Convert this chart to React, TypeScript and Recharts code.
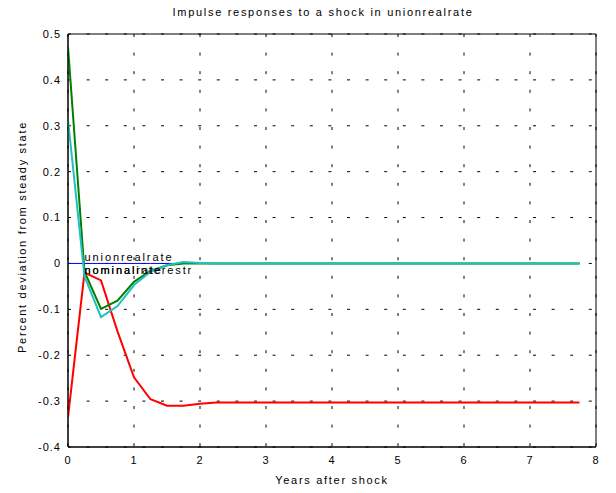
import React from "react";
import {
  LineChart,
  Line,
  XAxis,
  YAxis,
  CartesianGrid,
  ReferenceArea,
  ReferenceDot,
} from "recharts";

const years = [
  0, 0.25, 0.5, 0.75, 1, 1.25, 1.5, 1.75, 2, 2.25, 2.5, 2.75, 3, 3.25, 3.5, 3.75,
  4, 4.25, 4.5, 4.75, 5, 5.25, 5.5, 5.75, 6, 6.25, 6.5, 6.75, 7, 7.25, 7.5, 7.75,
];

const unionrealrate = [
  0, 0, 0, 0, 0, 0, 0, 0, 0, 0, 0, 0, 0, 0, 0, 0,
  0, 0, 0, 0, 0, 0, 0, 0, 0, 0, 0, 0, 0, 0, 0, 0,
];

const redSeries = [
  -0.335, -0.02, -0.037, -0.148, -0.248, -0.296, -0.31, -0.31, -0.306, -0.303, -0.303,
  -0.303, -0.303, -0.303, -0.303, -0.303, -0.303, -0.303, -0.303, -0.303, -0.303,
  -0.303, -0.303, -0.303, -0.303, -0.303, -0.303, -0.303, -0.303, -0.303, -0.303, -0.303,
];

const greenSeries = [
  0.472, -0.018, -0.099, -0.081, -0.04, -0.016, -0.004, 0, 0, 0, 0, 0, 0, 0, 0, 0,
  0, 0, 0, 0, 0, 0, 0, 0, 0, 0, 0, 0, 0, 0, 0, 0,
];

const cyanSeries = [
  0.313, -0.028, -0.117, -0.093, -0.047, -0.018, -0.004, 0.003, 0.001, 0, 0, 0, 0, 0, 0, 0,
  0, 0, 0, 0, 0, 0, 0, 0, 0, 0, 0, 0, 0, 0, 0, 0,
];

const xTicks = [0, 1, 2, 3, 4, 5, 6, 7, 8];
const yTicks = [-0.4, -0.3, -0.2, -0.1, 0, 0.1, 0.2, 0.3, 0.4, 0.5];

const labelTexts = ["unionrealrate", "nominalrate", "nominalinterestr"];
const labelX = [0.25, 0.25, 0.25];
const labelY = [0.015, -0.015, -0.015];

const data = years.map((x, i) => ({
  x,
  blue: unionrealrate[i],
  red: redSeries[i],
  green: greenSeries[i],
  cyan: cyanSeries[i],
}));

const FONT = "'Liberation Sans', Arial, Helvetica, sans-serif";

const fmtY = (v: number) => {
  const r = Math.round(v * 10) / 10;
  return r === 0 ? "0" : String(r);
};

export default function App() {
  return (
    <div
      style={{
        position: "absolute",
        left: 0,
        top: 0,
        width: 616,
        height: 493,
        background: "#fff",
        fontFamily: FONT,
      }}
    >
      <LineChart
        width={616}
        height={493}
        data={data}
        margin={{ top: 34, right: 20, left: 0, bottom: 0 }}
      >
        <CartesianGrid
          stroke="#000"
          strokeWidth={1}
          strokeDasharray="3 15.6"
          horizontalValues={yTicks}
          verticalValues={xTicks}
        />
        <XAxis
          dataKey="x"
          type="number"
          domain={[0, 8]}
          ticks={xTicks}
          height={46}
          tickLine={false}
          tickSize={0}
          tickMargin={9}
          axisLine={{ stroke: "#000" }}
          tick={{ fill: "#000", fontSize: 11, fontFamily: FONT, letterSpacing: 1 }}
          allowDataOverflow
        />
        <YAxis
          type="number"
          domain={[-0.4, 0.5]}
          ticks={yTicks}
          width={68}
          tickLine={false}
          tickSize={0}
          tickMargin={7}
          tickFormatter={fmtY}
          axisLine={{ stroke: "#000" }}
          tick={{ fill: "#000", fontSize: 11, fontFamily: FONT, letterSpacing: 1 }}
          allowDataOverflow
        />
        <ReferenceArea
          x1={0}
          x2={8}
          y1={-0.4}
          y2={0.5}
          fill="none"
          fillOpacity={0}
          stroke="#000"
          strokeWidth={1}
        />
        <Line
          dataKey="blue"
          stroke="#0000ff"
          strokeWidth={1}
          dot={false}
          isAnimationActive={false}
        />
        <Line
          dataKey="red"
          stroke="#ff0000"
          strokeWidth={2}
          dot={false}
          isAnimationActive={false}
        />
        <Line
          dataKey="green"
          stroke="#008000"
          strokeWidth={2}
          dot={false}
          isAnimationActive={false}
        />
        <Line
          dataKey="cyan"
          stroke="#20c0c0"
          strokeWidth={2}
          dot={false}
          isAnimationActive={false}
        />
        {labelTexts.map((t, i) => (
          <ReferenceDot
            key={t}
            x={labelX[i]}
            y={labelY[i]}
            r={0}
            shape={(p: any) => (
              <text
                x={p.cx}
                y={p.cy}
                dominantBaseline="central"
                fontSize={11}
                fontFamily={FONT}
                letterSpacing={1.9}
                fill="#000"
              >
                {t}
              </text>
            )}
          />
        ))}
      </LineChart>
      <div
        style={{
          position: "absolute",
          left: 0,
          width: 646,
          top: 4,
          textAlign: "center",
          fontSize: 11,
          letterSpacing: 1.7,
          lineHeight: "16px",
          color: "#000",
        }}
      >
        Impulse responses to a shock in unionrealrate
      </div>
      <div
        style={{
          position: "absolute",
          left: 0,
          width: 664,
          top: 472,
          textAlign: "center",
          fontSize: 11,
          letterSpacing: 1.7,
          lineHeight: "16px",
          color: "#000",
        }}
      >
        Years after shock
      </div>
      <div
        style={{
          position: "absolute",
          left: 22 - 150,
          top: 237 - 8,
          width: 300,
          textAlign: "center",
          fontSize: 11,
          letterSpacing: 1.7,
          lineHeight: "16px",
          color: "#000",
          transform: "rotate(-90deg)",
          transformOrigin: "150px 8px",
        }}
      >
        Percent deviation from steady state
      </div>
    </div>
  );
}
